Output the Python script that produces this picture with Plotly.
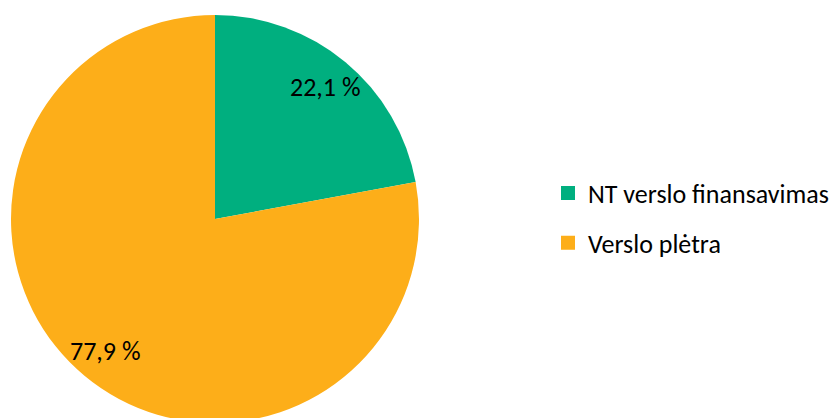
import math

import plotly.graph_objects as go

labels = ["NT verslo finansavimas", "Verslo plėtra"]
values = [22.1, 77.9]
colors = ["#00af7f", "#fdae19"]

# the page has an 8px body margin, so positions are given in figure pixels
W, H = 837, 428
cx, cy, r = 207, 211, 204
font = "Carlito, Lato, sans-serif"

fig = go.Figure()
fig.add_trace(
    go.Pie(
        labels=labels,
        values=values,
        marker={"colors": colors, "line": {"width": 0}},
        sort=False,
        direction="clockwise",
        rotation=0,
        textinfo="none",
        hoverinfo="label+percent",
        showlegend=False,
        domain={"x": [(cx - r) / W, (cx + r) / W], "y": [1 - (cy + r) / H, 1 - (cy - r) / H]},
    )
)

# legend entries as empty traces so the gap between them can be set
for i, (name, color) in enumerate(zip(labels, colors)):
    fig.add_trace(
        go.Scatter(
            x=[None],
            y=[None],
            mode="markers",
            name=name,
            legendgroup=str(i),
            marker={"symbol": "square", "size": 14, "color": color},
        )
    )

# percentage labels placed along the middle of each slice
total = sum(values)
start = 0.0
for v in values:
    mid = (start + v / 2) / total * 2 * math.pi
    start += v
    px = cx + 0.84 * r * math.sin(mid)
    py = cy - 0.84 * r * math.cos(mid)
    fig.add_annotation(
        x=px / W,
        y=1 - py / H,
        xref="paper",
        yref="paper",
        xanchor="center",
        yanchor="middle",
        text=f"{v:.1f}".replace(".", ",") + " %",
        showarrow=False,
        font={"size": 26, "color": "#000000", "family": font},
    )

fig.update_layout(
    width=W,
    height=H,
    margin={"l": 0, "r": 0, "t": 0, "b": 0},
    paper_bgcolor="white",
    plot_bgcolor="white",
    xaxis={"visible": False},
    yaxis={"visible": False},
    font={"family": font, "size": 26, "color": "#000000"},
    legend={
        "x": 540 / W,
        "y": 1 - 210 / H,
        "yanchor": "middle",
        "xanchor": "left",
        "traceorder": "grouped",
        "tracegroupgap": 13,
        "itemwidth": 30,
        "font": {"size": 26, "family": font},
    },
)

fig.write_html("out.html")
